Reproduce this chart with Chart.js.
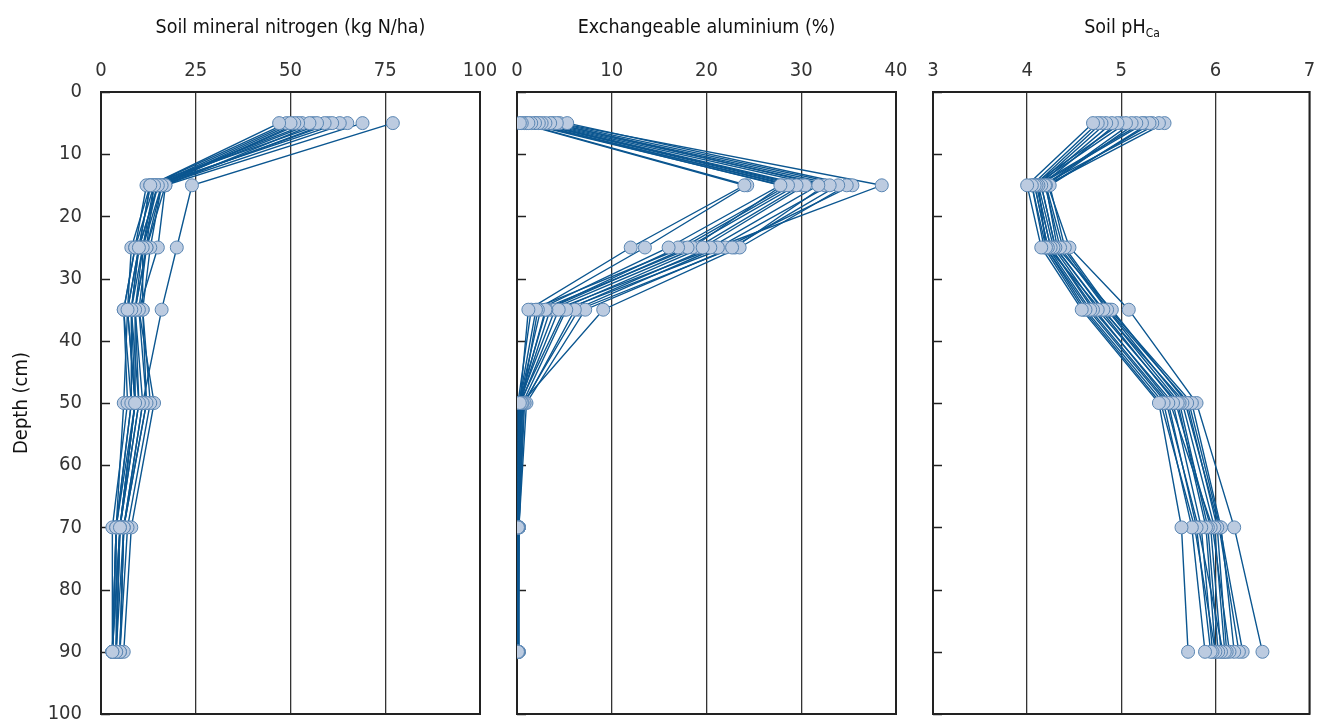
<!DOCTYPE html>
<html>
<head>
<meta charset="utf-8">
<script src="https://cdn.jsdelivr.net/npm/chart.js@4.4.0/dist/chart.umd.min.js"></script>
<style>
html,body{margin:0;padding:0;background:#fff;}
#wrap{position:relative;width:1317px;height:722px;overflow:hidden;}
canvas{position:absolute;top:0;}
.ttl{position:absolute;top:14px;height:26px;line-height:26px;text-align:center;
  font-family:'Liberation Sans Narrow','DejaVu Sans Condensed',sans-serif;font-size:19.5px;color:#111;}
.ttl sub{font-size:12px;vertical-align:-4px;line-height:0;}
</style>
</head>
<body>
<div id="wrap">
  <canvas id="c1" width="500" height="722" style="left:0px"></canvas>
  <canvas id="c2" width="415" height="722" style="left:500px"></canvas>
  <canvas id="c3" width="402" height="722" style="left:915px"></canvas>
  <div class="ttl" style="left:101px;width:379px">Soil mineral nitrogen (kg N/ha)</div>
  <div class="ttl" style="left:517px;width:379px">Exchangeable aluminium (%)</div>
  <div class="ttl" style="left:933px;width:378px">Soil pH<sub>Ca</sub></div>
</div>
<script>
// sampling depths (cm), shared by every profile
const depths = [5, 15, 25, 35, 50, 70, 90];

// soil mineral nitrogen, kg N/ha, one row per profile
const nitrogen = [
  [47,13,10,7,9,5,3],
  [50,14,9,6,8,4,3],
  [51,15,11,8,10,5,4],
  [52,16,12,9,11,6,4],
  [55,13,10,7,9,4,3],
  [57,17,12,10,12,6,5],
  [59,12,9,6,7,3,3],
  [61,15,10,8,9,5,4],
  [63,14,11,9,10,5,4],
  [65,16,13,11,13,7,5],
  [69,17,15,10,14,8,6],
  [77,24,20,16,11,6,5],
  [49,13,8,7,6,4,3],
  [53,15,10,8,8,4,4],
  [56,14,12,9,9,5,3],
  [60,16,11,11,12,6,5]
];

// exchangeable aluminium, %
const aluminium = [
  [0.3,24,12,1.2,0.3,0.1,0.1],
  [0.5,24.3,13.5,2,0.2,0.1,0.1],
  [1.2,27.8,16,2.2,0.5,0.1,0.1],
  [1.5,28.6,17,3,0.3,0.1,0.1],
  [1.9,29.5,18,3.1,0.2,0.1,0.1],
  [2.3,30.4,19.6,4.4,0.4,0.2,0.1],
  [2.6,31.8,20.4,5.2,0.6,0.2,0.1],
  [3,33,21.2,6.1,0.8,0.2,0.2],
  [3.5,33.9,22.7,7.2,1,0.2,0.2],
  [4.2,34.8,23.5,9.1,0.5,0.1,0.1],
  [5.3,35.4,22,5,0.3,0.1,0.1],
  [4.5,38.5,21,4,0.2,0.1,0.1],
  [0.8,28,18.5,2.5,0.2,0.1,0.1],
  [2,30,19,3.5,0.3,0.1,0.1],
  [1,29,17.5,1.5,0.1,0.1,0.1],
  [3.8,32.5,23,6.5,0.7,0.2,0.1]
];

// soil pH (CaCl2)
const ph = [
  [4.70,4.00,4.15,4.58,5.40,5.64,5.71],
  [4.75,4.05,4.20,4.62,5.45,5.75,5.89],
  [4.79,4.08,4.22,4.67,5.50,5.80,5.95],
  [4.84,4.10,4.25,4.70,5.55,5.85,5.97],
  [4.90,4.12,4.28,4.75,5.60,5.90,6.00],
  [4.96,4.15,4.30,4.81,5.62,5.92,6.03],
  [5.05,4.08,4.22,4.78,5.58,5.95,6.06],
  [5.11,4.19,4.35,4.85,5.65,5.99,6.10],
  [5.16,4.20,4.32,4.90,5.70,6.02,6.12],
  [5.22,4.10,4.25,4.72,5.52,5.97,6.15],
  [5.30,4.24,4.40,4.88,5.75,6.06,6.20],
  [5.33,4.22,4.45,5.08,5.80,6.20,6.50],
  [5.40,4.15,4.30,4.80,5.68,6.04,6.25],
  [5.46,4.20,4.38,4.86,5.72,6.05,6.29],
  [5.25,4.12,4.20,4.65,5.48,5.82,6.08],
  [5.00,4.05,4.18,4.60,5.42,5.78,6.00]
];

const lineCol = '#0b5690';
const dotFill = '#bccbe0';
const dotEdge = '#5a86b3';
const axisCol = '#222';
const font = "'Liberation Sans Narrow','DejaVu Sans Condensed',sans-serif";

Chart.defaults.font.family = font;
Chart.defaults.color = '#333';

// box round the plot area + small inward ticks on the depth axis
const frame = {
  id: 'frame',
  beforeDatasetsDraw(chart){
    const {ctx, chartArea:a, scales:{y}} = chart;
    ctx.save();
    ctx.strokeStyle = axisCol; ctx.lineWidth = 2;
    ctx.strokeRect(a.left, a.top, a.right-a.left, a.bottom-a.top);
    ctx.lineWidth = 1.5;
    y.ticks.forEach(t=>{
      const py = Math.round(y.getPixelForValue(t.value))+0.5;
      ctx.beginPath(); ctx.moveTo(a.left, py); ctx.lineTo(a.left+9, py); ctx.stroke();
    });
    ctx.restore();
  }
};

function pts(p){ return p.map((v,i)=>({x:v, y:depths[i]})); }

function sets(profiles){
  const lines = profiles.map(p=>({data:pts(p), showLine:true, borderColor:lineCol, borderWidth:1.4,
    pointRadius:0, tension:0, order:2}));
  const dots = profiles.map(p=>({data:pts(p), showLine:false, pointRadius:6.5,
    pointBackgroundColor:dotFill, pointBorderColor:dotEdge, pointBorderWidth:1, order:1}));
  return lines.concat(dots);
}

function panel(id, profiles, xmin, xmax, xstep, yw, pad, first){
  return new Chart(qs(id), {
    type:'scatter',
    data:{datasets:sets(profiles)},
    plugins:[frame],
    options:{
      responsive:false, animation:false, events:[],
      layout:{padding:pad},
      plugins:{legend:{display:false}, tooltip:{enabled:false}},
      scales:{
        x:{type:'linear', position:'top', min:xmin, max:xmax,
          ticks:{stepSize:xstep, padding:9, font:{size:20}, color:'#333'},
          grid:{color:'#333', lineWidth:1.3, drawTicks:false},
          border:{display:true, color:axisCol, width:2},
          afterFit(s){ s.height = 92; s.paddingLeft = 0; s.paddingRight = 0; }},
        y:{type:'linear', reverse:true, min:0, max:100,
          ticks:{display:first, stepSize:10, padding:19, font:{size:20}, color:'#333'},
          grid:{display:false, drawTicks:false},
          border:{display:true, color:axisCol, width:2},
          title:{display:first, text:'Depth (cm)', font:{size:20}, color:'#111', padding:{top:10, bottom:0}},
          afterFit(s){ s.width = yw; s.paddingTop = 0; s.paddingBottom = 0; }}
      }
    }
  });
}

function qs(id){ return document.getElementById(id); }

panel('c1', nitrogen, 0, 100, 25, 101, {left:0, right:20, top:0, bottom:8}, true);
panel('c2', aluminium, 0, 40, 10, 17, {left:0, right:19, top:0, bottom:8}, false);
panel('c3', ph, 3, 7, 1, 18, {left:0, right:7, top:0, bottom:8}, false);
</script>
</body>
</html>
